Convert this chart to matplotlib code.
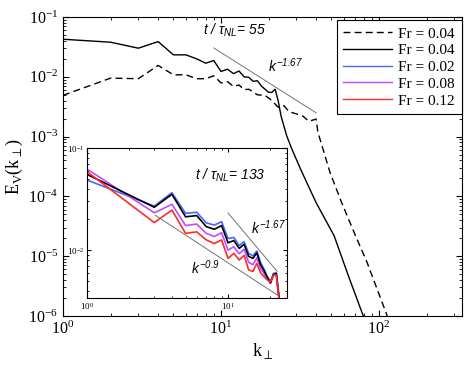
import matplotlib
matplotlib.use("Agg")
import matplotlib.pyplot as plt
from matplotlib.lines import Line2D

plt.rcParams['font.family'] = ['Liberation Serif', 'DejaVu Serif']
plt.rcParams['mathtext.fontset'] = 'custom'
plt.rcParams['mathtext.rm'] = 'Liberation Sans:italic'
plt.rcParams['mathtext.it'] = 'Liberation Sans:italic'
plt.rcParams['mathtext.sf'] = 'Liberation Sans'

# main panel, t/tau_NL = 55
k_dash = [1, 2, 3, 4, 5, 6, 7, 8, 9, 10, 11, 12, 13, 14, 15, 17, 19, 21, 23, 25,
          27, 30, 33, 36, 40, 41, 47, 49, 58, 71, 84, 112, 125]
E_dash = [0.0049, 0.0095, 0.0093, 0.0155, 0.0108, 0.0108, 0.0093, 0.0093, 0.0104, 0.0079,
          0.0083, 0.0069, 0.0073, 0.0061, 0.0062, 0.0050, 0.0049, 0.0040, 0.0031, 0.0033,
          0.0026, 0.0024, 0.0022, 0.0018, 0.00197, 0.0012, 0.00036, 0.00025, 7.9e-5, 2.2e-5,
          7.9e-6, 1.05e-6, 5e-7]

k_solid = [1, 2, 3, 4, 5, 6, 7, 8, 9, 10, 11, 12, 13, 14, 15, 16, 17, 18, 19, 20,
           21, 22, 23, 24, 26, 28, 32, 40, 52, 64, 79, 90]
E_solid = [0.0425, 0.0379, 0.0301, 0.0388, 0.0233, 0.0233, 0.0200, 0.0169, 0.0187, 0.0123,
           0.0134, 0.0113, 0.0125, 0.0100, 0.0098, 0.0084, 0.0086, 0.0070, 0.0062, 0.0055,
           0.0055, 0.0062, 0.0040, 0.0022, 0.00105, 0.00063, 0.00028, 7.85e-5, 2.2e-5,
           4.7e-6, 1.05e-6, 4e-7]

ref_main_k = [9, 40]
ref_main_E = [0.0304, 0.0025]

# inset, t/tau_NL = 133
k_in = [1, 3, 4, 5, 6, 7, 8, 9, 10, 11, 12, 13, 14, 15, 16, 17, 18, 19, 20, 21, 22, 23]
E_black = [0.0552, 0.0263, 0.0352, 0.0212, 0.0218, 0.0170, 0.0160, 0.0174, 0.0118, 0.0124,
           0.0104, 0.0114, 0.0087, 0.0083, 0.0094, 0.0072, 0.0063, 0.0054, 0.0048, 0.0058,
           0.0059, 0.0034]
E_blue = [0.0486, 0.0270, 0.0365, 0.0229, 0.0235, 0.0185, 0.0176, 0.0190, 0.0130, 0.0133,
          0.0111, 0.0121, 0.0093, 0.0088, 0.0098, 0.0076, 0.0065, 0.0055, 0.0049, 0.0059,
          0.0060, 0.0034]
E_magenta = [0.0622, 0.0232, 0.0281, 0.0174, 0.0180, 0.0146, 0.0136, 0.0148, 0.0100, 0.0108,
             0.0092, 0.0102, 0.0076, 0.0072, 0.0084, 0.0066, 0.0059, 0.0052, 0.0047, 0.0057,
             0.0058, 0.0034]
E_red = [0.0586, 0.0186, 0.0247, 0.0146, 0.0151, 0.0126, 0.0116, 0.0126, 0.0083, 0.0093,
         0.0080, 0.0089, 0.0064, 0.0062, 0.0074, 0.0060, 0.0055, 0.0051, 0.0049, 0.0057,
         0.0057, 0.0033]

ref_in1_k = [10, 22.3]
ref_in1_E = [0.0231, 0.0062]
ref_in2_k = [3.04, 22.6]
ref_in2_E = [0.022, 0.0036]

labels = ['Fr = 0.04', 'Fr = 0.04', 'Fr = 0.02', 'Fr = 0.08', 'Fr = 0.12']
c_blue = '#4a66ff'
c_mag = '#c04cff'
c_red = '#ff2a2a'

fig = plt.figure(figsize=(4.69, 3.65), dpi=100)
ax = fig.add_axes([0.1343, 0.1342, 0.8507, 0.8192])
ax.loglog(k_dash, E_dash, color='k', lw=1.0, dashes=(5, 3))
ax.loglog(k_solid, E_solid, color='k', lw=1.0)
ax.loglog(ref_main_k, ref_main_E, color='0.45', lw=0.7)
ax.set_xlim(1, 335)
ax.set_ylim(1e-6, 1e-1)
ax.tick_params(which='both', direction='in', top=True, right=True, labelsize=11.5)
ax.tick_params(which='major', length=4)
ax.tick_params(which='minor', length=2)
ax.set_xlabel(r'k$_{\perp}$', fontsize=13, labelpad=2)
ax.set_ylabel(r'E$_{\mathdefault{V}}$(k$_{\perp}$)', fontsize=13, labelpad=2)

ax.text(12.2, 0.061, r'$t\ /\ \tau_{NL}$= 55', fontsize=10, style='italic',
        family='Liberation Sans', ha='center', va='center')
ax.text(25.4, 0.0153, r'$k^{-1.67}$', fontsize=10, ha='center', va='center')

handles = [Line2D([], [], color='k', lw=1.0, dashes=(5, 3)),
           Line2D([], [], color='k', lw=1.0),
           Line2D([], [], color=c_blue, lw=1.0),
           Line2D([], [], color=c_mag, lw=1.0),
           Line2D([], [], color=c_red, lw=1.0)]
leg = ax.legend(handles, labels, loc='upper right', bbox_to_anchor=(1.0, 0.99),
                borderaxespad=0, fontsize=11, handlelength=3.2, labelspacing=0.2,
                fancybox=False, framealpha=1, edgecolor='k', borderpad=0.45,
                handletextpad=0.4)
leg.get_frame().set_linewidth(0.8)

ins = fig.add_axes([0.1855, 0.1836, 0.4265, 0.4109])
ins.loglog(k_in, E_blue, color=c_blue, lw=1.2)
ins.loglog(k_in, E_magenta, color=c_mag, lw=1.2)
ins.loglog(k_in, E_black, color='k', lw=1.2)
ins.loglog(k_in, E_red, color=c_red, lw=1.2)
ins.loglog(ref_in1_k, ref_in1_E, color='0.45', lw=0.7)
ins.loglog(ref_in2_k, ref_in2_E, color='0.45', lw=0.7)
ins.set_xlim(1, 26.2)
ins.set_ylim(0.0034, 0.1)
ins.tick_params(which='both', direction='in', top=True, right=True, labelsize=6.5, pad=2)
ins.tick_params(which='major', length=3)
ins.tick_params(which='minor', length=1.5)
ins.text(10.3, 0.0543, r'$t\ /\ \tau_{NL}$= 133', fontsize=10, style='italic',
         family='Liberation Sans', ha='center', va='center')
ins.text(19.2, 0.0164, r'$k^{-1.67}$', fontsize=10, ha='center', va='center')
ins.text(6.87, 0.00667, r'$k^{-0.9}$', fontsize=10, ha='center', va='center')

fig.savefig('out.png', dpi=100)
